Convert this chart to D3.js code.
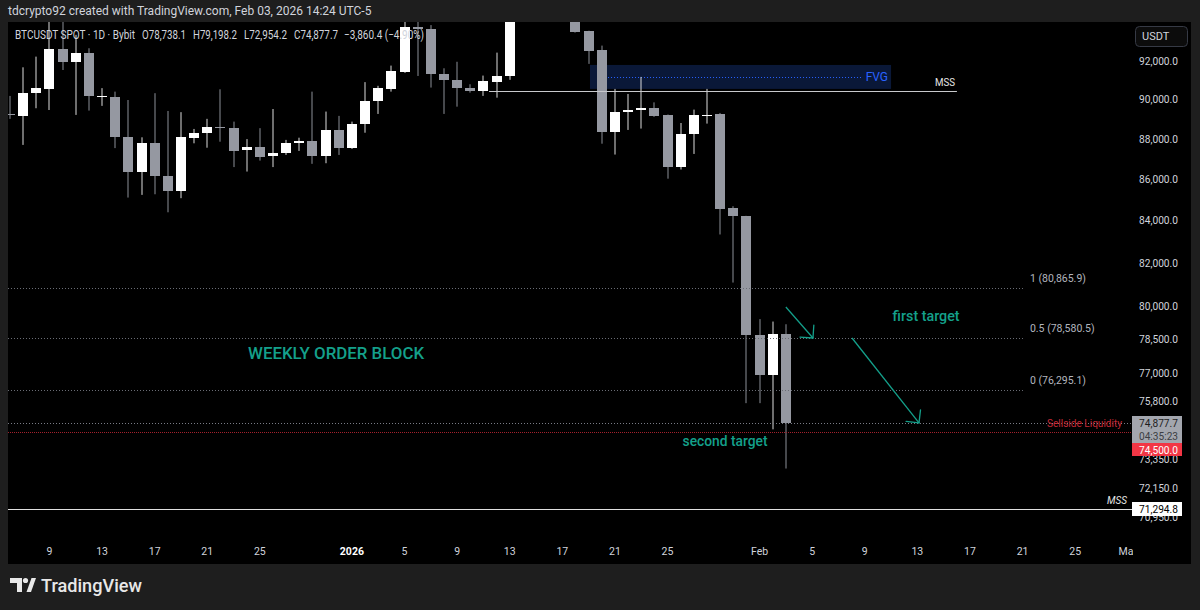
<!DOCTYPE html>
<html><head><meta charset="utf-8">
<script src="https://cdn.jsdelivr.net/npm/d3@7"></script>
<style>html,body{margin:0;padding:0;background:#1e1e1e;overflow:hidden;} svg{display:block;}</style>
</head><body>
<svg id="c" width="1200" height="610"></svg>
<script>
// ---------- DATA ----------
const dates = ["2025-12-06","2025-12-07","2025-12-08","2025-12-09","2025-12-10","2025-12-11","2025-12-12","2025-12-13","2025-12-14","2025-12-15",
"2025-12-16","2025-12-17","2025-12-18","2025-12-19","2025-12-20","2025-12-21","2025-12-22","2025-12-23","2025-12-24","2025-12-25",
"2025-12-26","2025-12-27","2025-12-28","2025-12-29","2025-12-30","2025-12-31","2026-01-01","2026-01-02","2026-01-03","2026-01-04",
"2026-01-05","2026-01-06","2026-01-07","2026-01-08","2026-01-09","2026-01-10","2026-01-11","2026-01-12","2026-01-13","2026-01-14",
"2026-01-15","2026-01-16","2026-01-17","2026-01-18","2026-01-19","2026-01-20","2026-01-21","2026-01-22","2026-01-23","2026-01-24",
"2026-01-25","2026-01-26","2026-01-27","2026-01-28","2026-01-29","2026-01-30","2026-01-31","2026-02-01","2026-02-02","2026-02-03"];
const open  = [89250,89170,90330,90570,92620,91950,92440,90170,90150,88090, 86390,87790,86190,85440,88070,88290,88600,88580,87450,87610,
               87160,87300,87790,87910,87160,88460,87570,88760,89930,90550, 91450,93800,93680,91310,91020,90590,90450,90930,91220,95400,
               96900,95600,95500,95100,93570,92570,88360,89370,89460,89580, 89200,86620,88260,89150,89270,84610,84230,78720,76940,78738.1];
const high  = [90190,91670,92230,94600,94450,93380,92670,90590,90410,89980, 88090,90330,89420,89360,88510,89020,90530,88880,88000,88550,
               89520,87960,88070,90410,89390,89170,88880,90900,90710,91760, 94700,94400,93900,91620,91960,90790,91240,92440,96000,97900,
               97200,95900,95700,95300,93600,92810,90550,90290,91170,89860, 89240,88810,89490,90550,89320,84700,84240,79430,79320,79198.2];
const low   = [89020,87710,89560,89470,91530,89220,89440,89680,87550,85120, 85250,85280,84410,85090,87790,87570,87870,86610,86390,86930,
               86610,87210,87410,86770,86800,87210,87510,88320,89270,90410, 91380,91220,90620,89270,89640,90360,90190,90100,91020,94500,
               95000,94700,94900,93500,91850,87770,87230,88460,88530,89120, 86040,86490,87260,88780,83350,81100,75720,75720,74600,72954.2];
const close = [89200,90360,90590,92620,91950,92440,90190,90200,88090,86390, 87790,86190,85440,88090,88290,88600,88550,87430,87610,87130,
               87330,87790,87910,87180,88460,87570,88780,89930,90590,91480, 93780,93680,91310,91020,90590,90430,90960,91240,95400,96900,
               95600,95500,95100,93530,92550,88360,89390,89490,89580,89150, 86620,88270,89200,89240,84590,84220,78720,76940,78738.1,74877.7];

const priceTicks = [92000,90000,88000,86000,84000,82000,80000,78500,77000,75800,73350,72150,70950];
const timeTicks = [
  {d:"2025-12-09",t:"9"},{d:"2025-12-13",t:"13"},{d:"2025-12-17",t:"17"},{d:"2025-12-21",t:"21"},{d:"2025-12-25",t:"25"},
  {d:"2026-01-01",t:"2026",b:true},{d:"2026-01-05",t:"5"},{d:"2026-01-09",t:"9"},{d:"2026-01-13",t:"13"},{d:"2026-01-17",t:"17"},
  {d:"2026-01-21",t:"21"},{d:"2026-01-25",t:"25"},{d:"2026-02-01",t:"Feb"},{d:"2026-02-05",t:"5"},{d:"2026-02-09",t:"9"},
  {d:"2026-02-13",t:"13"},{d:"2026-02-17",t:"17"},{d:"2026-02-21",t:"21"},{d:"2026-02-25",t:"25"},{d:"2026-03-01",t:"Mar"}];

const fibLevels = [{label:"1 (80,865.9)",v:80865.9},{label:"0.5 (78,580.5)",v:78580.5},{label:"0 (76,295.1)",v:76295.1}];
const fibEnd = "2026-02-21T00:45";
const fvg = {from:"2026-01-19T02:30", to:"2026-02-11T00:00", top:91793, bottom:90550, mid:91171, midFrom:"2026-01-20T11:30", midTo:"2026-02-08T19:00"};
const mssTop = {from:"2026-01-11T10:20", to:"2026-02-16T00:15", v:90446};
const mssBottom = 71294.8;
const sellside = 74500;
const arrows = [
  {from:["2026-02-03T00:00",79980], to:["2026-02-05T01:30",78580.5]},
  {from:["2026-02-08T00:45",78580.5], to:["2026-02-13T03:00",74877.7]}];
const notes = [
  {text:"WEEKLY ORDER BLOCK", d:"2025-12-24T02:30", v:77914, anchor:"start", size:16, len:176},
  {text:"first target", d:"2026-02-13T16:00", v:79572, anchor:"middle", size:14, len:67},
  {text:"second target", d:"2026-01-29T09:00", v:74110, anchor:"middle", size:14, len:85}];

// ---------- SETUP ----------
const F = "Roboto, 'Noto Sans', sans-serif";
const T = s => new Date(s.length > 10 ? s + ":00Z" : s + "T00:00:00Z");
const svg = d3.select("#c");
const W = 1200, H = 610;
const pane = {l:8, t:22, r:1132, b:536};

const x = d3.scaleUtc().domain([T("2025-12-06"), T("2026-03-01")]).range([10, 1127.75]);
const y = d3.scaleLog().domain([92000, 72150]).range([61, 488]);
const fmt = d3.format(",.1f");

svg.append("rect").attr("width",W).attr("height",H).attr("fill","#1e1e1e");
svg.append("rect").attr("x",8).attr("y",22).attr("width",1183).attr("height",542).attr("fill","#000");

const defs = svg.append("defs");
defs.append("clipPath").attr("id","pane").append("rect")
  .attr("x",pane.l).attr("y",pane.t).attr("width",pane.r-pane.l).attr("height",pane.b-pane.t);
defs.append("clipPath").attr("id","taxis").append("rect")
  .attr("x",pane.l).attr("y",pane.b).attr("width",1133-pane.l).attr("height",28);

// header
svg.append("text").attr("x",8).attr("y",15).attr("fill","#d1d4dc").attr("font-family",F).attr("font-size",12)
  .text("tdcrypto92 created with TradingView.com, Feb 03, 2026 14:24 UTC-5");

const g = svg.append("g").attr("clip-path","url(#pane)");

// FVG box (behind candles)
g.append("rect")
  .attr("x",x(T(fvg.from))).attr("y",y(fvg.top))
  .attr("width",x(T(fvg.to))-x(T(fvg.from))).attr("height",y(fvg.bottom)-y(fvg.top))
  .attr("fill","#0a1838");
g.append("line")
  .attr("x1",x(T(fvg.midFrom))).attr("x2",x(T(fvg.midTo)))
  .attr("y1",Math.round(y(fvg.mid))+0.5).attr("y2",Math.round(y(fvg.mid))+0.5)
  .attr("stroke","#2962ff").attr("stroke-width",1).attr("stroke-dasharray","1,2");
g.append("text").attr("x",x(T(fvg.to))-3).attr("y",y(fvg.mid)+4.5).attr("text-anchor","end")
  .attr("fill","#2962ff").attr("font-family",F).attr("font-size",12).text("FVG");

// candles
const n = dates.length;
const candles = g.append("g");
for (let i = 0; i < n; i++) {
  const cx = Math.round(x(T(dates[i])));
  const up = close[i] >= open[i];
  const col = up ? "#ffffff" : "#9598a1";
  const wy1 = y(high[i]), wy2 = y(low[i]);
  candles.append("rect").attr("x",cx-0.5).attr("y",wy1).attr("width",1).attr("height",wy2-wy1)
    .attr("fill", up ? "#dcdcdc" : "#8c8f98");
  const by1 = Math.round(y(Math.max(open[i],close[i])));
  const by2 = Math.round(y(Math.min(open[i],close[i])));
  candles.append("rect").attr("x",cx-5).attr("y",by1).attr("width",10).attr("height",Math.max(1,by2-by1))
    .attr("fill",col);
}

// Fib levels
fibLevels.forEach(f => {
  const yy = Math.round(y(f.v)) + 0.5;
  g.append("line").attr("x1",pane.l).attr("x2",x(T(fibEnd))).attr("y1",yy).attr("y2",yy)
    .attr("stroke","#6a6d75").attr("stroke-width",1).attr("stroke-dasharray","1,2");
  g.append("text").attr("x",x(T(fibEnd))+7).attr("y",yy-7).attr("fill","#b2b5be")
    .attr("font-family",F).attr("font-size",10.5).text(f.label);
});

// current price dotted line
const last = n - 1;
const cy = Math.round(y(close[last])) + 0.5;
g.append("line").attr("x1",pane.l).attr("x2",pane.r).attr("y1",cy).attr("y2",cy)
  .attr("stroke","#787b86").attr("stroke-width",1).attr("stroke-dasharray","1,2");

// sellside liquidity
const sy = Math.round(y(sellside)) + 0.5;
g.append("line").attr("x1",pane.l).attr("x2",pane.r).attr("y1",sy).attr("y2",sy)
  .attr("stroke","#a3202c").attr("stroke-width",1).attr("stroke-dasharray","1,1");
g.append("text").attr("x",pane.r-10).attr("y",sy-5.5).attr("text-anchor","end").attr("fill","#c42a38")
  .attr("font-family",F).attr("font-size",10.5).attr("textLength",75).attr("lengthAdjust","spacingAndGlyphs")
  .text("Sellside Liquidity");

// MSS lines
const my = Math.round(y(mssTop.v)) + 0.5;
g.append("line").attr("x1",x(T(mssTop.from))).attr("x2",x(T(mssTop.to))).attr("y1",my).attr("y2",my)
  .attr("stroke","#c8c9cc").attr("stroke-width",1);
g.append("text").attr("x",x(T(mssTop.to))-2).attr("y",my-6).attr("text-anchor","end").attr("fill","#e6e6e6")
  .attr("font-family",F).attr("font-size",11).attr("textLength",20).attr("lengthAdjust","spacingAndGlyphs").text("MSS");
const mby = Math.round(y(mssBottom)) + 0.5;
g.append("line").attr("x1",pane.l).attr("x2",pane.r).attr("y1",mby).attr("y2",mby)
  .attr("stroke","#e0e0e0").attr("stroke-width",1);
g.append("text").attr("x",pane.r-5).attr("y",mby-6).attr("text-anchor","end").attr("fill","#e6e6e6")
  .attr("font-family",F).attr("font-size",10).attr("font-style","italic").text("MSS");

// arrows
const teal = "#14a08b";
arrows.forEach(a => {
  const x1 = x(T(a.from[0])), y1 = y(a.from[1]), x2 = x(T(a.to[0])), y2 = y(a.to[1]);
  g.append("line").attr("x1",x1).attr("y1",y1).attr("x2",x2).attr("y2",y2)
    .attr("stroke",teal).attr("stroke-width",1.3);
  const ang = Math.atan2(y1-y2, x1-x2), L = 13;
  [-Math.PI/4, Math.PI/4].forEach(da => {
    g.append("line").attr("x1",x2).attr("y1",y2)
      .attr("x2",x2 + L*Math.cos(ang+da)).attr("y2",y2 + L*Math.sin(ang+da))
      .attr("stroke",teal).attr("stroke-width",1.3).attr("stroke-linecap","round");
  });
});

// notes
notes.forEach(t => {
  g.append("text").attr("x",x(T(t.d))).attr("y",y(t.v)+t.size*0.36).attr("text-anchor",t.anchor)
    .attr("fill",teal).attr("font-family",F).attr("font-size",t.size).attr("font-weight",500)
    .attr("textLength",t.len).attr("lengthAdjust","spacingAndGlyphs").text(t.text);
});

// legend
const chg = close[last] - close[last-1];
const pct = chg / close[last-1] * 100;
const minus = v => (v < 0 ? "\u2212" : "+") + fmt(Math.abs(v));
const legendParts = [
  {x:15, w:120, t:"BTCUSDT SPOT \u00b7 1D \u00b7 Bybit"},
  {x:142, w:44, t:"O" + fmt(open[last])},
  {x:193, w:44, t:"H" + fmt(high[last])},
  {x:244, w:43, t:"L" + fmt(low[last])},
  {x:294, w:44, t:"C" + fmt(close[last])},
  {x:344, w:80, t:minus(chg) + " (" + (pct<0?"\u2212":"+") + d3.format(".2f")(Math.abs(pct)) + "%)"}];
legendParts.forEach(p => svg.append("text").attr("x",p.x).attr("y",39).attr("font-family",F).attr("font-size",12)
  .attr("fill","#d1d4dc").attr("textLength",p.w).attr("lengthAdjust","spacingAndGlyphs").text(p.t));

// price axis
const pa = svg.append("g");
priceTicks.forEach(v => {
  pa.append("text").attr("x",1139).attr("y",y(v)+3.5).attr("fill","#d1d4dc")
    .attr("font-family",F).attr("font-size",10.5).attr("textLength",39).attr("lengthAdjust","spacingAndGlyphs").text(fmt(v));
});
const lab = (txt, yy, fill) => pa.append("text").attr("x",1139).attr("y",yy).attr("fill",fill)
    .attr("font-family",F).attr("font-size",10.5).attr("textLength",39).attr("lengthAdjust","spacingAndGlyphs").text(txt);
// current price label
const cyr = Math.round(y(close[last]));
pa.append("rect").attr("x",1132).attr("y",cyr-7).attr("width",50).attr("height",27).attr("fill","#a3a6ae");
lab(fmt(close[last]), cyr+4, "#1e1e1e");
lab("04:35:23", cyr+16.5, "#3c3e44");
// sellside label
pa.append("rect").attr("x",1132).attr("y",cyr+20).attr("width",50).attr("height",13).attr("fill","#f23645");
lab(fmt(sellside), cyr+30.5, "#ffffff");
// MSS label
const myr = Math.round(y(mssBottom));
pa.append("rect").attr("x",1132).attr("y",myr-7).attr("width",50).attr("height",14).attr("fill","#ffffff");
lab(fmt(mssBottom), myr+4, "#000000");
// USDT button
pa.append("rect").attr("x",1135.5).attr("y",26.5).attr("width",52).attr("height",20).attr("rx",4)
  .attr("fill","#0c0c0c").attr("stroke","#363a45");
pa.append("text").attr("x",1142).attr("y",40).attr("fill","#d1d4dc").attr("font-family",F).attr("font-size",11).text("USDT");

// time axis
const ta = svg.append("g").attr("clip-path","url(#taxis)");
timeTicks.forEach(t => {
  ta.append("text").attr("x",x(T(t.d))).attr("y",555).attr("text-anchor","middle")
    .attr("fill",t.b ? "#ffffff" : "#d1d4dc").attr("font-weight",t.b?700:400)
    .attr("font-family",F).attr("font-size",10.5).text(t.t);
});

// TradingView logo
const lgG = svg.append("g").attr("fill","#e8e8e8");
lgG.append("path").attr("d","M10,578 h12 v14 h-5 v-9 h-7 z");
lgG.append("circle").attr("cx",25.5).attr("cy",580.5).attr("r",2.6);
lgG.append("path").attr("d","M26.5,592 l5,-14 h4.5 l-5,14 z");
svg.append("text").attr("x",41).attr("y",592).attr("fill","#e8e8e8").attr("font-family",F)
  .attr("font-size",19).attr("font-weight",500).attr("textLength",101).attr("lengthAdjust","spacingAndGlyphs").text("TradingView");
</script>
</body></html>
